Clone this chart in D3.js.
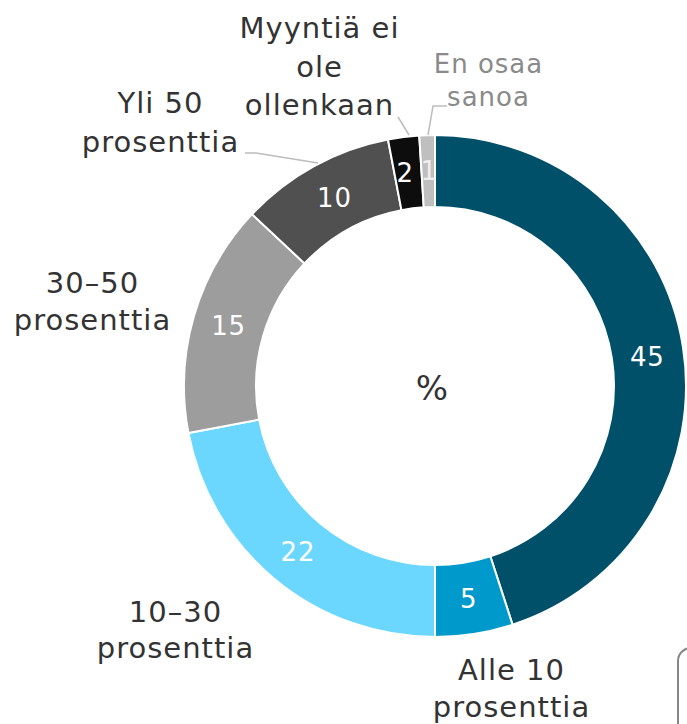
<!DOCTYPE html>
<html><head><meta charset="utf-8">
<script src="https://cdn.jsdelivr.net/npm/d3@7"></script>
<style>html,body{margin:0;padding:0;background:#fff;overflow:hidden}</style>
</head><body>
<svg id="c" width="687" height="724"></svg>
<script>
// Category 0 (45 %) has no visible outer label in the reference.
const categories = ["", "Alle 10 prosenttia", "10–30 prosenttia", "30–50 prosenttia", "Yli 50 prosenttia", "Myyntiä ei ole ollenkaan", "En osaa sanoa"];
const values = [45, 5, 22, 15, 10, 2, 1];
const colors = ["#005069", "#0099cc", "#6bd7ff", "#9d9d9d", "#505050", "#0d0d0d", "#bfbfbf"];
const labelLines = [
  [],
  ["Alle 10", "prosenttia"],
  ["10–30", "prosenttia"],
  ["30–50", "prosenttia"],
  ["Yli 50", "prosenttia"],
  ["Myyntiä ei", "ole", "ollenkaan"],
  ["En osaa", "sanoa"]
];
const centerText = "%";

const svg = d3.select("#c");
const font = "DejaVu Sans, Verdana, sans-serif";
const cx = 435, cy = 386, R = 251, r = 179;
const g = svg.append("g").attr("transform", `translate(${cx},${cy})`);
const pie = d3.pie().sort(null).value(d => d)(values);
const arc = d3.arc().innerRadius(r).outerRadius(R);
g.selectAll("path").data(pie).enter().append("path")
  .attr("d", arc).attr("fill", (d,i) => colors[i])
  .attr("stroke", "#fff").attr("stroke-width", 2);

const mid = d3.arc().innerRadius((R+r)/2).outerRadius((R+r)/2);
g.selectAll("text.v").data(pie).enter().append("text")
  .attr("class","v")
  .attr("transform", (d,i) => { const c = mid.centroid(d); return `translate(${c[0]+(i==6?1:i==5?-3:i==4?3:0)},${c[1]+(i==0?4:0)})`; })
  .attr("text-anchor","middle").attr("dy","0.36em")
  .attr("font-family", font).attr("font-size", 26).attr("letter-spacing", 0.8)
  .attr("fill", (d,i) => i==6 ? "#eeeeee" : "#fff")
  .text(d => d.data);

svg.append("text").attr("x", 432).attr("y", 388).attr("dy","0.36em")
  .attr("text-anchor","middle").attr("font-family", font).attr("font-size", 34)
  .attr("fill", "#333").text(centerText);

const pos = {
  1: {x: 511, y: 680, lh: 37, fs: 29, col: "#333"},
  2: {x: 175, y: 622, lh: 36, fs: 29, col: "#333"},
  3: {x: 92, y: 293, lh: 37, fs: 29, col: "#333"},
  4: {x: 160, y: 113, lh: 39, fs: 29, col: "#333"},
  5: {x: 319, y: 38, lh: 38.5, fs: 29, col: "#333"},
  6: {x: 488, y: 73, lh: 33, fs: 26, col: "#8a8a8a"}
};
labelLines.forEach((lines, idx) => {
  const p = pos[idx]; if (!p || !lines.length) return;
  const t = svg.append("text").attr("text-anchor","middle").attr("font-family", font)
    .attr("font-size", p.fs).attr("fill", p.col).attr("letter-spacing", 1);
  lines.forEach((s,k) => t.append("tspan").attr("x", p.x + 0.5).attr("y", p.y + k*p.lh).text(s));
});

const line = d3.line();
const leaders = [
  [[245,153],[256,153],[318,163]],
  [[398,117],[409,135]],
  [[447,106],[433,106],[428,135]]
];
leaders.forEach(pts => svg.append("path").attr("d", line(pts)).attr("fill","none")
  .attr("stroke","#bdbdbd").attr("stroke-width",1.5));

svg.append("rect").attr("x", 678).attr("y", 648).attr("width", 60).attr("height", 120)
  .attr("rx", 13).attr("fill","none").attr("stroke","#888").attr("stroke-width",2);
</script>
</body></html>
